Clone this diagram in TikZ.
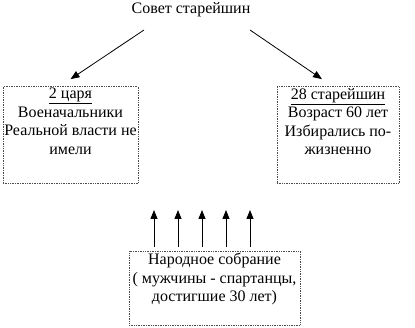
\documentclass[tikz,border=0pt]{standalone}
\usepackage{fontspec}
\setmainfont{Liberation Serif}
\usetikzlibrary{positioning,arrows.meta,calc}

\begin{document}
\begin{tikzpicture}[
  x=1pt, y=-1pt,
  font=\fontsize{16}{18.5}\selectfont,
  dbox/.style={draw=black!70, densely dotted, line width=0.7pt, inner sep=0pt},
  btext/.style={align=center, inner sep=0pt, anchor=north},
  arr/.style={-{Triangle[length=9pt,width=7pt]}, line width=0.8pt},
]
  \useasboundingbox (0,0) rectangle (415,328);

  % title
  \node[inner sep=0pt] (title) at (191,10) {Совет старейшин};
  \coordinate (tl) at (144,30);
  \coordinate (tr) at (250,30);

  % left box: kings
  \node[dbox, minimum width=135, minimum height=97] (kings) at (70.5,135) {};
  \node[btext] (kingstxt) at (70.5,88)
    {\underline{2 царя}\\Военачальники\\Реальной власти не\\имели};

  % right box: elders
  \node[dbox, minimum width=122, minimum height=97] (elders) at (338,135) {};
  \node[btext] (elderstxt) at (338,88)
    {\underline{28 старейшин}\\Возраст 60 лет\\Избирались по-\\жизненно};

  % bottom box: assembly
  \node[dbox, minimum width=171, minimum height=74] (folk) at (214.5,288) {};
  \node[btext] (folktxt) at (214.5,253)
    {Народное собрание\\( мужчины - спартанцы,\\достигшие 30 лет)};

  \draw[arr] (tl) -- ([yshift=7pt]kings.north);
  \draw[arr] (tr) -- ([xshift=-16pt,yshift=7pt]elders.north);

  \foreach \i/\xx in {1/154,2/178,3/202,4/226,5/250}{
    \coordinate (up\i) at (\xx,210);
    \draw[arr] ([yshift=4pt]folk.north -| up\i) -- (up\i);
  }
\end{tikzpicture}
\end{document}
